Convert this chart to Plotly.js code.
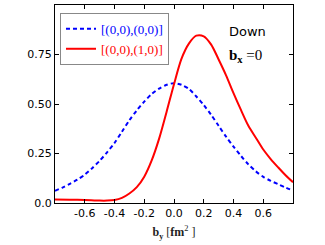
<!DOCTYPE html>
<html>
<head>
<meta charset="utf-8">
<script src="https://cdn.plot.ly/plotly-3.0.1.min.js"></script>
<style>html,body{margin:0;padding:0;background:#fff;}#chart{width:325px;height:245px;}</style>
</head>
<body>
<div id="chart"></div>
<script>
// Blue dashed curve [(0,0),(0,0)]
const blueX = [-0.8, -0.75, -0.7, -0.65, -0.6, -0.55, -0.5, -0.45, -0.4, -0.35, -0.3, -0.25, -0.2, -0.15, -0.1, -0.05, 0.0,
               0.05, 0.1, 0.15, 0.2, 0.25, 0.3, 0.35, 0.4, 0.45, 0.5, 0.55, 0.6, 0.65, 0.7, 0.75, 0.8];
const blueY = [0.062, 0.078, 0.097, 0.118, 0.143, 0.176, 0.213, 0.256, 0.303, 0.36, 0.418, 0.468, 0.512, 0.55, 0.578, 0.597, 0.605,
               0.597, 0.576, 0.538, 0.495, 0.445, 0.39, 0.335, 0.285, 0.238, 0.195, 0.16, 0.132, 0.112, 0.095, 0.078, 0.063];
// Red solid curve [(0,0),(1,0)]
const redX = [-0.8, -0.7, -0.6, -0.5, -0.45, -0.4, -0.35, -0.3, -0.25, -0.2, -0.15, -0.1, -0.05, 0.0, 0.05, 0.1, 0.15, 0.2,
              0.25, 0.3, 0.35, 0.4, 0.45, 0.5, 0.55, 0.6, 0.65, 0.7, 0.75, 0.8];
const redY = [0.018, 0.017, 0.015, 0.012, 0.012, 0.015, 0.026, 0.048, 0.08, 0.133, 0.215, 0.325, 0.46, 0.6, 0.728, 0.805, 0.845, 0.842,
              0.80, 0.725, 0.645, 0.555, 0.47, 0.39, 0.33, 0.27, 0.222, 0.18, 0.14, 0.105];
const xTickVals = [-0.6, -0.4, -0.2, 0.0, 0.2, 0.4, 0.6];
const xTickText = ["-0.6", "-0.4", "-0.2", "0.0", "0.2", "0.4", "0.6"];
const yTickVals = [0.0, 0.25, 0.5, 0.75];
const yTickText = ["0.0", "0.25", "0.50", "0.75"];
const blueName = '<span style="color:#0000ff">[(0,0),(0,0)]</span>';
const redName = '<span style="color:#ff0000">[(0,0),(1,0)]</span>';

const traces = [
  {x: blueX, y: blueY, type: 'scatter', mode: 'lines', name: blueName,
   line: {color: '#0000ff', width: 2, dash: '4px,3px', shape: 'spline', smoothing: 0.8}},
  {x: redX, y: redY, type: 'scatter', mode: 'lines', name: redName,
   line: {color: '#ff0000', width: 2, shape: 'spline', smoothing: 0.8}}
];

const axisCommon = {
  showgrid: false, zeroline: false, showline: true, linecolor: '#000', linewidth: 1,
  mirror: 'allticks', ticks: 'inside', ticklen: 4, tickcolor: '#000',
  tickfont: {family: 'DejaVu Sans', size: 11, color: '#000'}
};

const layout = {
  width: 325, height: 245,
  margin: {l: 55, r: 32, t: 5, b: 42},
  paper_bgcolor: '#fff', plot_bgcolor: '#fff',
  showlegend: true,
  legend: {x: 0.021, y: 0.96, xanchor: 'left', yanchor: 'top',
    bgcolor: '#fff', bordercolor: '#888', borderwidth: 1,
    font: {family: 'Liberation Serif', size: 13},
    itemwidth: 30, tracegroupgap: 0},
  xaxis: Object.assign({}, axisCommon, {
    range: [-0.8, 0.8], tickvals: xTickVals, ticktext: xTickText,
    title: {text: '<b>b</b><sub><b>y</b></sub> [<b>fm</b><sup>2</sup> ]',
      font: {family: 'Liberation Serif', size: 12, color: '#222'}, standoff: 8}
  }),
  yaxis: Object.assign({}, axisCommon, {
    range: [0, 1.0], tickvals: yTickVals, ticktext: yTickText
  }),
  annotations: [
    {xref: 'paper', yref: 'paper', x: 0.807, y: 0.864, xanchor: 'center', yanchor: 'middle',
     text: 'Down', showarrow: false,
     font: {family: 'DejaVu Sans', size: 13, color: '#000'}},
    {xref: 'paper', yref: 'paper', x: 0.80, y: 0.742, xanchor: 'center', yanchor: 'middle',
     text: '<b>b</b><sub><b>x</b></sub> =0', showarrow: false,
     font: {family: 'Liberation Serif', size: 15, color: '#000'}}
  ]
};

Plotly.newPlot('chart', traces, layout, {displayModeBar: false, staticPlot: true});
</script>
</body>
</html>
